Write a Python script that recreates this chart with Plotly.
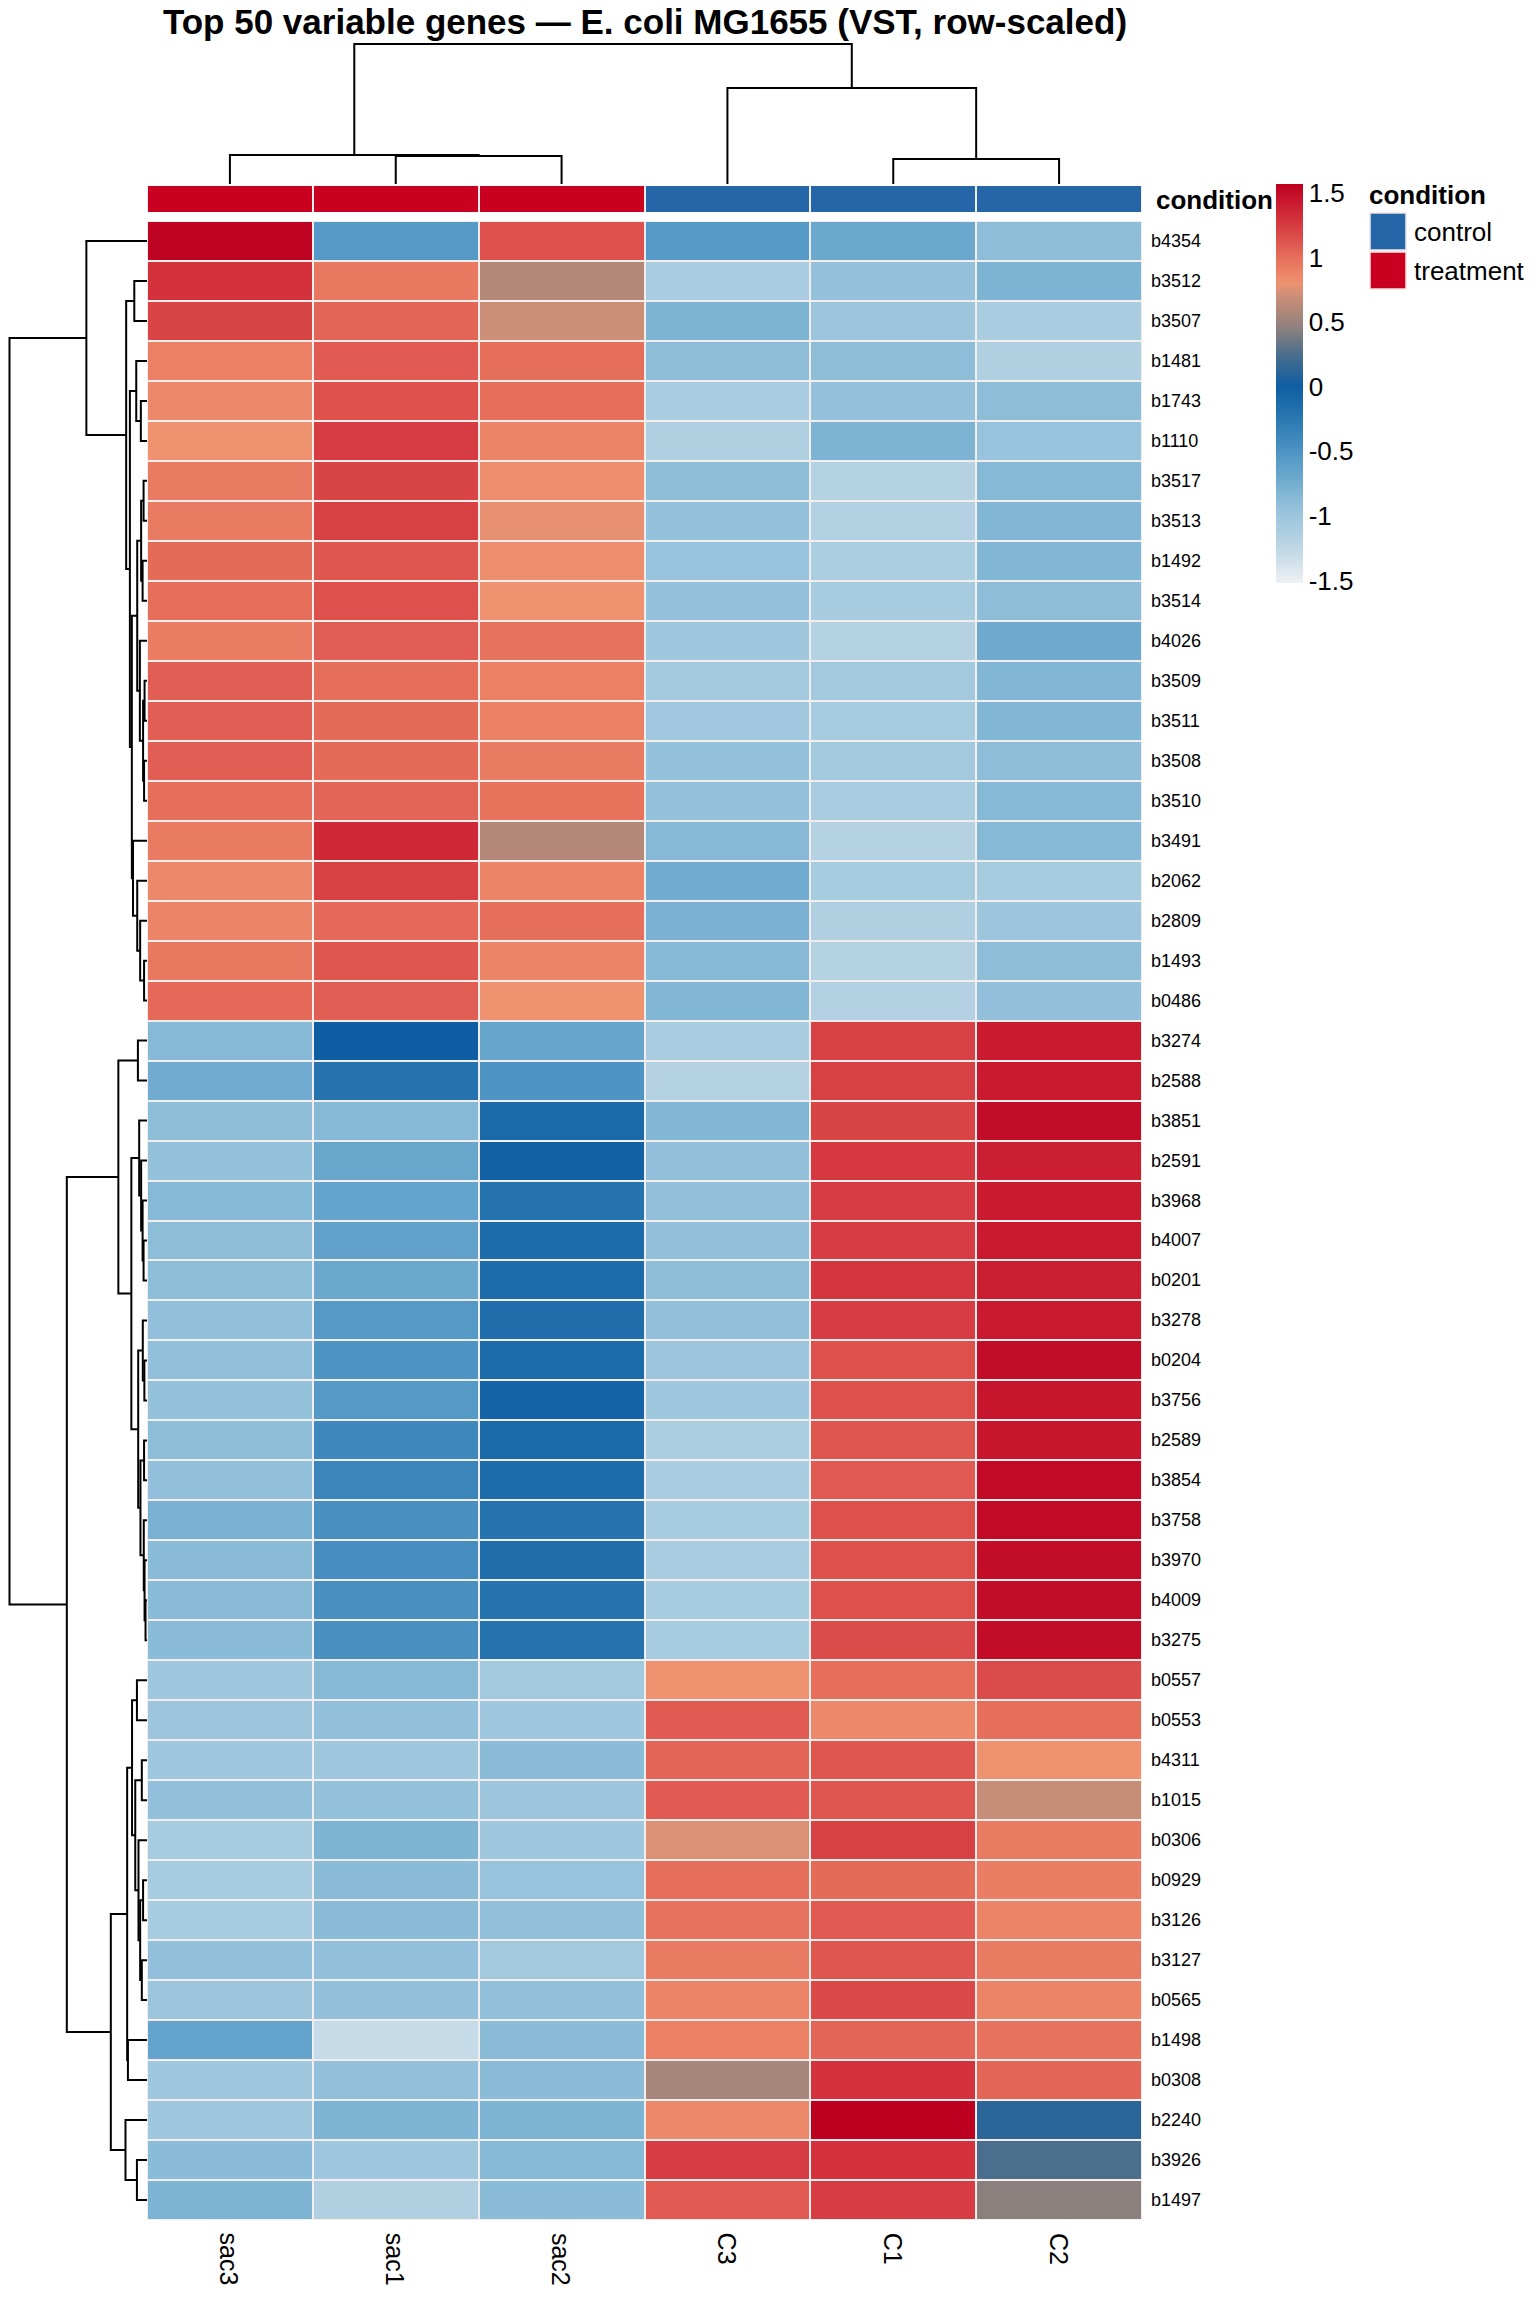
import plotly.graph_objects as go

W, H = 1536, 2304
PAGE_MARGIN = 8  # marge par défaut du <body> dans la page html
FIG_W, FIG_H = W - 2 * PAGE_MARGIN, H - 2 * PAGE_MARGIN
FONT = "Liberation Sans, Arial, Helvetica, sans-serif"
ANN_PAD = 2  # décalage interne des annotations plotly (borderpad + bordure)

# ---- data -------------------------------------------------------------
samples = ["sac3", "sac1", "sac2", "C3", "C1", "C2"]
conditions = ["treatment", "treatment", "treatment", "control", "control", "control"]

genes = [
    "b4354", "b3512", "b3507", "b1481", "b1743", "b1110", "b3517", "b3513", "b1492", "b3514",
    "b4026", "b3509", "b3511", "b3508", "b3510", "b3491", "b2062", "b2809", "b1493", "b0486",
    "b3274", "b2588", "b3851", "b2591", "b3968", "b4007", "b0201", "b3278", "b0204", "b3756",
    "b2589", "b3854", "b3758", "b3970", "b4009", "b3275", "b0557", "b0553", "b4311", "b1015",
    "b0306", "b0929", "b3126", "b3127", "b0565", "b1498", "b0308", "b2240", "b3926", "b1497",
]

# row-scaled VST values, columns in sample order above
z_values = [
    [1.55, -0.55, 1.15, -0.55, -0.70, -0.90],
    [1.30, 0.95, 0.60, -1.10, -0.95, -0.80],
    [1.20, 1.05, 0.70, -0.80, -1.00, -1.10],
    [0.90, 1.10, 1.00, -0.90, -0.90, -1.15],
    [0.85, 1.15, 1.00, -1.10, -0.95, -0.90],
    [0.80, 1.25, 0.88, -1.15, -0.80, -0.97],
    [0.93, 1.20, 0.82, -0.90, -1.18, -0.85],
    [0.93, 1.22, 0.78, -0.95, -1.17, -0.82],
    [1.02, 1.12, 0.82, -0.97, -1.12, -0.82],
    [1.00, 1.15, 0.80, -0.95, -1.08, -0.90],
    [0.92, 1.08, 0.98, -1.02, -1.18, -0.72],
    [1.08, 1.00, 0.90, -1.05, -1.05, -0.82],
    [1.08, 1.02, 0.90, -1.03, -1.08, -0.82],
    [1.08, 1.02, 0.93, -0.95, -1.05, -0.90],
    [1.00, 1.05, 0.97, -0.95, -1.10, -0.85],
    [0.93, 1.35, 0.60, -0.85, -1.18, -0.85],
    [0.85, 1.22, 0.88, -0.73, -1.08, -1.08],
    [0.88, 1.03, 1.00, -0.78, -1.15, -1.00],
    [0.95, 1.12, 0.87, -0.85, -1.18, -0.90],
    [1.03, 1.08, 0.80, -0.82, -1.17, -0.93],
    [-0.85, 0.00, -0.67, -1.10, 1.22, 1.42],
    [-0.73, -0.20, -0.50, -1.18, 1.22, 1.42],
    [-0.90, -0.85, -0.10, -0.82, 1.20, 1.50],
    [-0.95, -0.68, -0.03, -0.93, 1.27, 1.40],
    [-0.85, -0.65, -0.20, -0.93, 1.25, 1.42],
    [-0.90, -0.63, -0.12, -0.93, 1.25, 1.42],
    [-0.90, -0.70, -0.12, -0.90, 1.28, 1.40],
    [-0.93, -0.55, -0.15, -0.93, 1.25, 1.42],
    [-0.93, -0.50, -0.12, -1.00, 1.15, 1.50],
    [-0.95, -0.55, -0.05, -1.02, 1.15, 1.45],
    [-0.90, -0.40, -0.10, -1.12, 1.12, 1.45],
    [-0.93, -0.37, -0.12, -1.10, 1.10, 1.52],
    [-0.78, -0.47, -0.20, -1.08, 1.15, 1.52],
    [-0.88, -0.45, -0.15, -1.10, 1.15, 1.50],
    [-0.88, -0.47, -0.20, -1.08, 1.15, 1.50],
    [-0.88, -0.47, -0.20, -1.08, 1.17, 1.50],
    [-1.02, -0.85, -1.05, 0.80, 1.00, 1.17],
    [-1.00, -0.93, -1.02, 1.10, 0.85, 1.00],
    [-1.02, -1.02, -0.88, 1.05, 1.12, 0.80],
    [-0.93, -0.95, -1.00, 1.10, 1.12, 0.68],
    [-1.08, -0.80, -1.02, 0.75, 1.22, 0.93],
    [-1.08, -0.88, -0.97, 1.00, 1.02, 0.92],
    [-1.08, -0.88, -0.93, 0.98, 1.10, 0.88],
    [-0.93, -0.93, -1.05, 0.93, 1.12, 0.93],
    [-1.00, -0.93, -0.93, 0.88, 1.18, 0.88],
    [-0.65, -1.30, -0.88, 0.90, 1.05, 0.98],
    [-1.02, -0.93, -0.88, 0.55, 1.30, 1.05],
    [-1.02, -0.80, -0.80, 0.85, 1.58, 0.12],
    [-0.88, -1.02, -0.85, 1.25, 1.30, 0.25],
    [-0.80, -1.15, -0.88, 1.10, 1.25, 0.45],
]

# linkage style merges: [left id, right id, height]; leaves are 0..n-1, merge k gets id n+k
row_merges = [
    [1, 2, 13.0], [4, 5, 6.3], [3, 51, 11.0], [6, 7, 3.5], [8, 9, 4.5],
    [53, 54, 6.0], [11, 12, 2.5], [13, 14, 3.0], [56, 57, 4.0], [10, 58, 7.3],
    [55, 59, 10.0], [18, 19, 3.0], [17, 61, 7.0], [16, 62, 10.0], [15, 63, 14.3],
    [60, 64, 15.5], [52, 65, 17.5], [50, 66, 21.3], [0, 67, 62.0],
    [20, 21, 9.3], [25, 26, 3.5], [24, 70, 4.5], [23, 71, 6.0], [22, 72, 8.0],
    [28, 29, 2.7], [27, 74, 4.3], [34, 35, 1.5], [33, 76, 2.5], [32, 77, 3.3],
    [30, 31, 3.0], [79, 78, 6.7], [75, 80, 9.0], [73, 81, 16.0], [69, 82, 29.3],
    [36, 37, 10.3], [38, 39, 5.3], [41, 42, 4.0], [43, 44, 5.3], [86, 87, 7.0],
    [40, 88, 8.7], [85, 89, 12.0], [84, 90, 15.3], [45, 46, 19.5], [91, 92, 20.3],
    [48, 49, 10.3], [47, 94, 22.0], [93, 95, 37.0], [83, 96, 82.0], [68, 97, 140.6],
]
col_merges = [[4, 5, 25.0], [1, 2, 28.0], [0, 7, 29.0], [3, 6, 96.0], [8, 9, 140.0]]

colorbar_ticks = [-1.5, -1, -0.5, 0, 0.5, 1, 1.5]


# ---- helpers ------------------------------------------------------------
def px(x):
    """Position horizontale de la page (pixels) -> coordonnée paper."""
    return (x - PAGE_MARGIN) / FIG_W


def py(y):
    """Position verticale de la page (pixels, depuis le haut) -> coordonnée paper."""
    return 1 - (y - PAGE_MARGIN) / FIG_H


def dendro_lines(merges, n):
    """Coordonnées (position feuille, hauteur) des segments du dendrogramme."""
    pos = [float(i) for i in range(n)]
    hgt = [0.0] * n
    p_coords, h_coords = [], []
    for a, b, h in merges:
        p_coords += [pos[a], pos[a], pos[b], pos[b], None]
        h_coords += [hgt[a], h, h, hgt[b], None]
        pos.append((pos[a] + pos[b]) / 2)
        hgt.append(h)
    return p_coords, h_coords


ZMIN, ZMAX = -1.52, 1.57
scale_stops = [
    (-1.52, "#EFF1F3"), (-1.30, "#C6DBE8"), (-1.10, "#A9CCE0"), (-1.00, "#9DC6DD"),
    (-0.85, "#86B9D6"), (-0.70, "#6CA8CD"), (-0.55, "#559AC6"), (-0.40, "#3F88BD"),
    (-0.20, "#2473AE"), (0.00, "#0F5EA3"), (0.25, "#4A6E8C"), (0.45, "#8C807F"),
    (0.60, "#B38878"), (0.70, "#CB8F78"), (0.80, "#EE9270"), (0.90, "#EB8065"),
    (1.00, "#E66F5B"), (1.10, "#E05A52"), (1.20, "#D94545"), (1.30, "#D3323C"),
    (1.42, "#C91A30"), (1.57, "#BE0020"),
]
colorscale = [[(v - ZMIN) / (ZMAX - ZMIN), c] for v, c in scale_stops]

COL_CONTROL = "#2566A8"
COL_TREAT = "#CA0020"

# échelle du dendrogramme des lignes : feuilles à x=147, racine à x=9.5 (pixels de page)
ROW_LEAF_X, ROW_ROOT_X = 147.0, 9.5
row_root_h = max(m[2] for m in row_merges)
row_px_per_unit = (ROW_LEAF_X - ROW_ROOT_X) / row_root_h

# ---- figure -------------------------------------------------------------
fig = go.Figure()

fig.add_trace(
    go.Heatmap(
        z=z_values,
        x=list(range(len(samples))),
        y=list(range(len(genes))),
        colorscale=colorscale,
        zmin=ZMIN,
        zmax=ZMAX,
        xgap=2,
        ygap=2,
        hoverinfo="skip",
        colorbar=dict(
            x=px(1276),
            xanchor="left",
            y=py(184),
            yanchor="top",
            len=(583 - 184) / FIG_H,
            lenmode="fraction",
            thickness=27,
            thicknessmode="pixels",
            xpad=0,
            ypad=0,
            outlinewidth=0,
            ticks="",
            tickvals=colorbar_ticks,
            ticktext=[f"{t:g}" for t in colorbar_ticks],
            tickfont=dict(size=26, color="black", family=FONT),
        ),
        xaxis="x",
        yaxis="y",
    )
)

fig.add_trace(
    go.Heatmap(
        z=[[1 if c == "treatment" else 0 for c in conditions]],
        x=list(range(len(samples))),
        colorscale=[[0, COL_CONTROL], [0.5, COL_CONTROL], [0.5, COL_TREAT], [1, COL_TREAT]],
        zmin=0,
        zmax=1,
        xgap=2,
        showscale=False,
        hoverinfo="skip",
        xaxis="x",
        yaxis="y2",
    )
)

cx, cy = dendro_lines(col_merges, len(samples))
fig.add_trace(
    go.Scatter(x=cx, y=cy, mode="lines", line=dict(color="black", width=2),
               hoverinfo="skip", xaxis="x", yaxis="y3")
)
ry, rx = dendro_lines(row_merges, len(genes))
fig.add_trace(
    go.Scatter(x=rx, y=ry, mode="lines", line=dict(color="black", width=2),
               hoverinfo="skip", xaxis="x2", yaxis="y")
)

annotations = []
for i, g in enumerate(genes):
    annotations.append(dict(
        text=g, xref="paper", x=px(1151 - ANN_PAD), xanchor="left", yref="y", y=i,
        yanchor="middle", showarrow=False, font=dict(size=18, color="black", family=FONT),
    ))
for j, s in enumerate(samples):
    annotations.append(dict(
        text=s, xref="x", x=j, xanchor="center", yref="paper", y=py(2231),
        yanchor="top", textangle=90, showarrow=False,
        font=dict(size=25, color="black", family=FONT),
    ))
annotations += [
    dict(text="condition", xref="paper", x=px(1156 - ANN_PAD), xanchor="left", yref="paper",
         y=py(200), yanchor="middle", showarrow=False,
         font=dict(size=26, color="black", family=FONT, weight="bold")),
    dict(text="condition", xref="paper", x=px(1369 - ANN_PAD), xanchor="left", yref="paper",
         y=py(195), yanchor="middle", showarrow=False,
         font=dict(size=26, color="black", family=FONT, weight="bold")),
    dict(text="control", xref="paper", x=px(1414 - ANN_PAD), xanchor="left", yref="paper",
         y=py(232), yanchor="middle", showarrow=False,
         font=dict(size=26, color="black", family=FONT)),
    dict(text="treatment", xref="paper", x=px(1414 - ANN_PAD), xanchor="left", yref="paper",
         y=py(271), yanchor="middle", showarrow=False,
         font=dict(size=26, color="black", family=FONT)),
]

shapes = [
    dict(type="rect", xref="x", yref="y", x0=-0.5, x1=5.5, y0=-0.5, y1=len(genes) - 0.5,
         fillcolor="#F2EEEE", line=dict(width=0), layer="below"),
    dict(type="rect", xref="x", yref="y2", x0=-0.5, x1=5.5, y0=-0.5, y1=0.5,
         fillcolor="#F2EEEE", line=dict(width=0), layer="below"),
    dict(type="rect", xref="paper", yref="paper", x0=px(1370), x1=px(1406),
         y0=py(250), y1=py(213), fillcolor=COL_CONTROL, line=dict(color="#EFE3E3", width=1.5)),
    dict(type="rect", xref="paper", yref="paper", x0=px(1370), x1=px(1406),
         y0=py(289), y1=py(252), fillcolor=COL_TREAT, line=dict(color="#EFE3E3", width=1.5)),
]

hidden = dict(visible=False, showgrid=False, zeroline=False, fixedrange=True)
fig.update_layout(
    width=FIG_W,
    height=FIG_H,
    margin=dict(l=0, r=0, t=0, b=0),
    paper_bgcolor="white",
    plot_bgcolor="rgba(0,0,0,0)",
    showlegend=False,
    font=dict(family=FONT, color="black"),
    title=dict(
        text="Top 50 variable genes \u2014 E. coli MG1655 (VST, row-scaled)",
        x=px(645), xanchor="center", y=py(22), yanchor="middle",
        font=dict(size=35, family=FONT, color="black", weight="bold"),
    ),
    xaxis=dict(domain=[px(147), px(1142)], range=[-0.5, 5.5], anchor="y", **hidden),
    yaxis=dict(domain=[py(2220), py(221)], range=[len(genes) - 0.5, -0.5], anchor="x", **hidden),
    yaxis2=dict(domain=[py(212), py(186)], range=[-0.5, 0.5], anchor="x", **hidden),
    yaxis3=dict(domain=[py(186), py(40)], range=[-2, 144], anchor="x", **hidden),
    xaxis2=dict(
        domain=[px(PAGE_MARGIN), px(149)],
        range=[(ROW_LEAF_X - PAGE_MARGIN) / row_px_per_unit, -2 / row_px_per_unit],
        anchor="y",
        **hidden,
    ),
    annotations=annotations,
    shapes=shapes,
)

fig.write_html("out.html")
